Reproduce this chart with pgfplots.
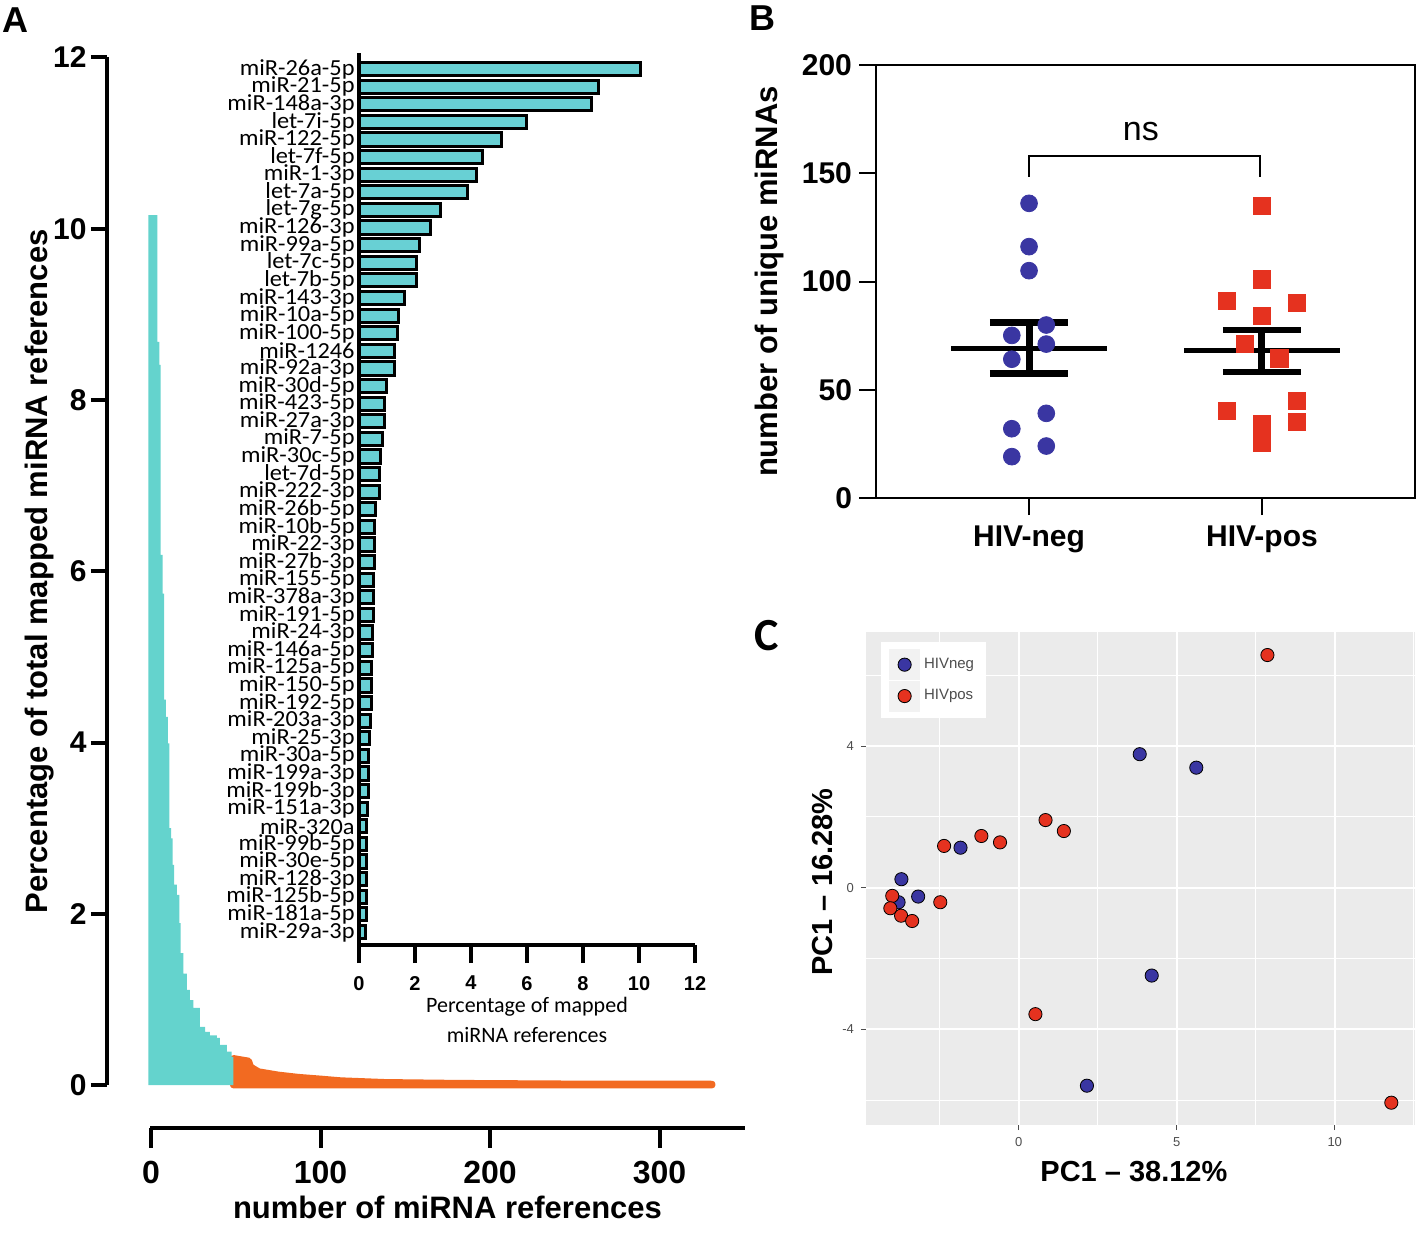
\documentclass[border=0pt]{standalone}
\usepackage{fontspec}
\setmainfont{Liberation Sans}
\newfontfamily\carlito{Carlito}
\newfontfamily\carlitow[FakeStretch=1.06]{Carlito}
\usepackage{pgfplots}
\pgfplotsset{compat=1.18}
\definecolor{tealA}{HTML}{64D3CD}
\definecolor{tealB}{HTML}{68D0D4}
\definecolor{orangeA}{HTML}{F26A21}
\definecolor{hivneg}{HTML}{3A36A2}
\definecolor{hivpos}{HTML}{E5321F}
\definecolor{ggbg}{HTML}{EBEBEB}
\definecolor{ggtext}{HTML}{4D4D4D}
\definecolor{ggkey}{HTML}{F2F2F2}
\newcommand{\lbl}{\bfseries\fontsize{15.5}{18}\selectfont}
\newcommand{\tkl}{\bfseries\fontsize{15}{18}\selectfont}

\begin{document}
\begin{tikzpicture}
\useasboundingbox (0,0) rectangle (709pt,-622.5pt);
\pgfplotsset{/pgf/number format/assume math mode=true}

% ---- A: distribution of all miRNAs
\begin{axis}[at={(53.5pt,-542.5pt)}, anchor=south west, scale only axis,
  width=319pt, height=513.75pt,
  xmin=-25.96, xmax=350.44, ymin=0, ymax=12,
  axis x line=none, axis y line*=left,
  axis line style={line width=2pt},
  ytick={0,2,...,12}, tick align=outside, major tick length=8pt,
  ytick style={line width=2pt, black},
  yticklabel style={font=\tkl, inner sep=2pt},
  ylabel={Percentage of total mapped miRNA references},
  ylabel style={at={(rel axis cs:-0.105,0.5)}, anchor=center, font=\lbl},
  clip=false]
\addplot[fill=orangeA, draw=orangeA, line width=3.4pt, line join=round] coordinates {
  (48.6,0.31) (57.6,0.28) (58.8,0.21) (63.5,0.155) (75,0.117) (87,0.09)
  (100,0.07) (112,0.05) (138,0.03) (180,0.02) (250,0.012) (331,0.01)} \closedcycle;
\addplot[const plot, fill=tealA, draw=none] coordinates {
  (-1.6,10.16) (3.7,8.68) (4.9,8.41) (5.7,6.19) (6.9,5.74) (7.8,4.5) (8.8,4.30)
  (9.9,3.99) (10.8,3.0) (11.8,2.88) (12.8,2.57) (13.7,2.34) (15.2,2.22) (16.7,1.89)
  (17.5,1.54) (19.1,1.30) (21.1,1.11) (23.0,0.99) (25.0,0.90) (28.9,0.68) (31.9,0.62)
  (34.8,0.58) (38.8,0.55) (40.7,0.47) (44.7,0.39) (47.6,0.33) (48.6,0.33)} \closedcycle;
\end{axis}

% offset x axis of A
\begin{axis}[at={(75pt,-564pt)}, anchor=south west, scale only axis,
  width=297.5pt, height=1pt,
  xmin=-0.6, xmax=350.4, ymin=0, ymax=1,
  axis y line=none, axis x line*=bottom,
  axis line style={line width=2pt},
  xtick={0,100,200,300}, tick align=outside, major tick length=10pt,
  xtick style={line width=2pt, black},
  xticklabel style={font=\bfseries\fontsize{16}{18}\selectfont, yshift=-3pt},
  xlabel={number of miRNA references},
  xlabel style={at={(rel axis cs:0.5,0)}, anchor=center, yshift=-39.5pt, font=\lbl}]
\end{axis}

% inset: top 50 miRNAs
\begin{axis}[at={(179.5pt,-472.5pt)}, anchor=south west, scale only axis,
  width=168pt, height=446.15pt,
  xmin=0, xmax=12, ymin=-0.74, ymax=49.93,
  axis lines*=left, axis line style={line width=2pt},
  xbar, bar width=0.75, bar shift=0pt,
  xtick={0,2,...,12}, tick align=outside, major tick length=9pt,
  xtick style={line width=2pt, black},
  xticklabel style={font=\bfseries\fontsize{10}{12}\selectfont, yshift=-3pt},
  ytick={0,...,49}, ytick style={draw=none},
  yticklabels={miR-29a-3p,miR-181a-5p,miR-125b-5p,miR-128-3p,miR-30e-5p,miR-99b-5p,
    miR-320a,miR-151a-3p,miR-199b-3p,miR-199a-3p,miR-30a-5p,miR-25-3p,miR-203a-3p,
    miR-192-5p,miR-150-5p,miR-125a-5p,miR-146a-5p,miR-24-3p,miR-191-5p,miR-378a-3p,
    miR-155-5p,miR-27b-3p,miR-22-3p,miR-10b-5p,miR-26b-5p,miR-222-3p,let-7d-5p,
    miR-30c-5p,miR-7-5p,miR-27a-3p,miR-423-5p,miR-30d-5p,miR-92a-3p,miR-1246,
    miR-100-5p,miR-10a-5p,miR-143-3p,let-7b-5p,let-7c-5p,miR-99a-5p,miR-126-3p,
    let-7g-5p,let-7a-5p,miR-1-3p,let-7f-5p,miR-122-5p,let-7i-5p,miR-148a-3p,
    miR-21-5p,miR-26a-5p},
  yticklabel style={font=\carlitow\fontsize{11.5}{12}\selectfont, inner sep=1pt, xshift=8pt},
  xlabel={Percentage of mapped\\miRNA references},
  xlabel style={at={(rel axis cs:0.5,0)}, anchor=center, yshift=-37.5pt,
    align=center, font=\carlito\fontsize{11}{15}\selectfont}]
\addplot[fill=tealB, draw=black, line width=1.5pt] coordinates {
  (0.24,0) (0.25,1) (0.25,2) (0.27,3) (0.28,4) (0.28,5) (0.28,6) (0.30,7) (0.33,8)
  (0.33,9) (0.35,10) (0.39,11) (0.41,12) (0.45,13) (0.45,14) (0.45,15) (0.47,16)
  (0.47,17) (0.52,18) (0.52,19) (0.52,20) (0.56,21) (0.56,22) (0.56,23) (0.59,24)
  (0.73,25) (0.73,26) (0.77,27) (0.84,28) (0.90,29) (0.90,30) (0.98,31) (1.26,32)
  (1.28,33) (1.38,34) (1.42,35) (1.64,36) (2.05,37) (2.05,38) (2.15,39) (2.54,40)
  (2.90,41) (3.87,42) (4.19,43) (4.40,44) (5.09,45) (5.98,46) (8.31,47) (8.56,48)
  (10.05,49)};
\end{axis}

% ---- B: unique miRNAs per group
\begin{axis}[at={(438pt,-249pt)}, anchor=south west, scale only axis,
  width=269.5pt, height=216.5pt,
  xmin=0.343, xmax=2.657, ymin=0, ymax=200,
  axis line style={line width=1pt},
  tick pos=left, tick align=outside, major tick length=8.5pt,
  tick style={line width=1pt, black},
  xtick={1,2}, xticklabels={HIV-neg,HIV-pos},
  ytick={0,50,...,200},
  ticklabel style={font=\tkl},
  xticklabel style={yshift=-2pt},
  ylabel={number of unique miRNAs},
  ylabel style={at={(rel axis cs:-0.197,0.5)}, anchor=center, font=\lbl},
  clip=false]
\addplot[only marks, mark=*, mark size=4.2pt, hivneg] coordinates {
  (1,136.1) (1,116.1) (1,105.0) (1.074,79.9) (0.926,75.1) (1.074,71.1)
  (0.926,64.1) (1.074,39.1) (0.926,32.0) (1.074,24.0) (0.926,19.1)};
\addplot[only marks, mark=square*, mark size=4.3pt, hivpos] coordinates {
  (2,135.0) (2,101.0) (1.85,91.1) (2.15,90.1) (2,84.1) (1.925,71.1) (2.075,64.5)
  (2.15,44.9) (1.85,40.2) (2.15,35.0) (2,34.0) (2,25.3)};
\addplot[black, line width=2.3pt] coordinates {(0.667,69.1) (1.333,69.1)};
\addplot[black, line width=3.3pt] coordinates {(0.832,81.0) (1.168,81.0)};
\addplot[black, line width=3.3pt] coordinates {(0.832,57.6) (1.168,57.6)};
\addplot[black, line width=3.5pt] coordinates {(1,57.6) (1,81.0)};
\addplot[black, line width=2.3pt] coordinates {(1.667,68.0) (2.333,68.0)};
\addplot[black, line width=3.3pt] coordinates {(1.832,77.6) (2.168,77.6)};
\addplot[black, line width=3.3pt] coordinates {(1.832,58.2) (2.168,58.2)};
\addplot[black, line width=3.5pt] coordinates {(2,58.2) (2,77.6)};
\addplot[black, line width=1pt] coordinates {(1,148.4) (1,158) (1.99,158) (1.99,148.4)};
\node[font=\fontsize{17}{19}\selectfont] at (axis cs:1.48,169.2) {ns};
\end{axis}

% ---- C: PCA
\begin{axis}[at={(433pt,-562.5pt)}, anchor=south west, scale only axis,
  width=274.5pt, height=246.5pt,
  xmin=-4.83, xmax=12.54, ymin=-6.70, ymax=7.22,
  axis background/.style={fill=ggbg},
  axis line style={draw=none},
  grid=both,
  major grid style={white, line width=0.9pt},
  minor grid style={white, line width=0.45pt},
  xtick={0,5,10}, minor xtick={-2.5,2.5,7.5,12.5},
  ytick={-4,0,4}, minor ytick={-6,-2,2,6},
  tick pos=left, tick align=outside, major tick length=2.5pt, minor tick length=0pt,
  tick style={ggtext, line width=0.5pt},
  ticklabel style={font=\fontsize{6.5}{8}\selectfont, text=ggtext},
  xlabel={PC1 – 38.12\%},
  xlabel style={at={(rel axis cs:0.488,0)}, anchor=center, yshift=-23.5pt,
    font=\bfseries\fontsize{14.5}{17}\selectfont},
  ylabel={PC1 – 16.28\%},
  ylabel style={at={(rel axis cs:-0.080,0.493)}, anchor=center,
    font=\bfseries\fontsize{14.5}{17}\selectfont},
  legend image code/.code={\fill[ggkey] (0pt,-7.5pt) rectangle (15pt,7.5pt);
    \draw[#1] plot coordinates {(7.5pt,0pt)};},
  legend cell align=left,
  legend style={at={(rel axis cs:0.027,0.98)}, anchor=north west, fill=white,
    draw=none, font=\fontsize{7.5}{9}\selectfont, text=ggtext, row sep=0.3pt,
    inner xsep=4pt, inner ysep=3.5pt}]
\addplot[only marks, mark=*, mark size=3.3pt,
  mark options={fill=hivneg, draw=black, line width=0.4pt}] coordinates {
  (3.83,3.77) (5.62,3.39) (-1.84,1.13) (-3.71,0.24) (-3.18,-0.25) (-3.80,-0.41)
  (4.21,-2.48) (2.16,-5.59)};
\addplot[only marks, mark=*, mark size=3.3pt,
  mark options={fill=hivpos, draw=black, line width=0.4pt}] coordinates {
  (7.87,6.57) (0.85,1.91) (1.43,1.60) (-1.18,1.46) (-0.59,1.28) (-2.36,1.18)
  (-4.00,-0.23) (-4.06,-0.58) (-3.72,-0.79) (-3.37,-0.94) (-2.48,-0.41)
  (0.53,-3.57) (11.79,-6.07)};
\legend{HIVneg,HIVpos}
\end{axis}

% panel letters
\node[font=\bfseries\fontsize{18}{20}\selectfont] at (7.5pt,-10pt) {A};
\node[font=\bfseries\fontsize{18}{20}\selectfont] at (381pt,-9pt) {B};
\node[font=\carlito\bfseries\fontsize{23}{25}\selectfont] at (383.5pt,-318pt) {C};
\end{tikzpicture}
\end{document}
